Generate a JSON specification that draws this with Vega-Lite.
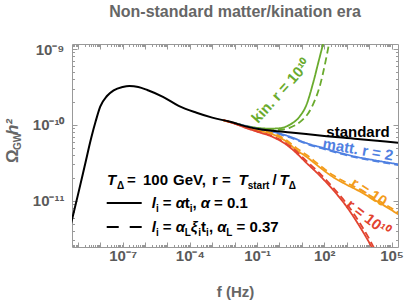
{
  "$schema": "https://vega.github.io/schema/vega-lite/v6.json",
  "width": 326,
  "height": 203,
  "autosize": {"type": "none"},
  "padding": {"left": 72, "top": 44, "right": 9, "bottom": 56},
  "title": {"text": "Non-standard matter/kination era", "fontSize": 16, "fontWeight": "bold", "color": "#666666", "anchor": "middle", "frame": "group", "baseline": "alphabetic", "offset": 9},
  "config": {
    "font": "Liberation Sans",
    "view": {"stroke": "#999999", "strokeWidth": 1},
    "axis": {"domain": false, "grid": false, "tickColor": "#999999", "tickWidth": 1, "labelColor": "#5a5a5a", "labelFontSize": 15, "labelFontWeight": "bold", "labelOverlap": false, "labelFlush": false, "labelBound": false, "titleColor": "#666666", "titleFontSize": 15, "titleFontWeight": "bold"}
  },
  "datasets": {
    "curves": [
      {"curve": "standard", "type": "solid", "f": 5.01e-10, "omega": 5.01e-12},
      {"curve": "standard", "type": "solid", "f": 1e-9, "omega": 1.175e-11},
      {"curve": "standard", "type": "solid", "f": 2.0e-9, "omega": 2.82e-11},
      {"curve": "standard", "type": "solid", "f": 3.98e-9, "omega": 6.76e-11},
      {"curve": "standard", "type": "solid", "f": 6.31e-9, "omega": 1.122e-10},
      {"curve": "standard", "type": "solid", "f": 1e-8, "omega": 1.738e-10},
      {"curve": "standard", "type": "solid", "f": 2.0e-8, "omega": 2.40e-10},
      {"curve": "standard", "type": "solid", "f": 3.98e-8, "omega": 2.85e-10},
      {"curve": "standard", "type": "solid", "f": 1e-7, "omega": 3.16e-10},
      {"curve": "standard", "type": "solid", "f": 2.0e-7, "omega": 3.26e-10},
      {"curve": "standard", "type": "solid", "f": 5.01e-7, "omega": 3.16e-10},
      {"curve": "standard", "type": "solid", "f": 1.26e-6, "omega": 2.88e-10},
      {"curve": "standard", "type": "solid", "f": 6.31e-6, "omega": 2.34e-10},
      {"curve": "standard", "type": "solid", "f": 3.16e-5, "omega": 1.778e-10},
      {"curve": "standard", "type": "solid", "f": 2.0e-4, "omega": 1.445e-10},
      {"curve": "standard", "type": "solid", "f": 1e-3, "omega": 1.245e-10},
      {"curve": "standard", "type": "solid", "f": 6.31e-3, "omega": 1.096e-10},
      {"curve": "standard", "type": "solid", "f": 3.16e-2, "omega": 9.55e-11},
      {"curve": "standard", "type": "solid", "f": 0.158, "omega": 8.71e-11},
      {"curve": "standard", "type": "solid", "f": 0.501, "omega": 8.36e-11},
      {"curve": "standard", "type": "solid", "f": 3.16, "omega": 7.94e-11},
      {"curve": "standard", "type": "solid", "f": 79.4, "omega": 7.16e-11},
      {"curve": "standard", "type": "solid", "f": 3981, "omega": 6.46e-11},
      {"curve": "standard", "type": "solid", "f": 2.0e5, "omega": 5.82e-11},

      {"curve": "kin", "type": "solid", "f": 0.01, "omega": 1.052e-10},
      {"curve": "kin", "type": "solid", "f": 0.0794, "omega": 9.23e-11},
      {"curve": "kin", "type": "solid", "f": 0.355, "omega": 8.91e-11},
      {"curve": "kin", "type": "solid", "f": 1, "omega": 9.02e-11},
      {"curve": "kin", "type": "solid", "f": 2.82, "omega": 1.0e-10},
      {"curve": "kin", "type": "solid", "f": 7.94, "omega": 1.288e-10},
      {"curve": "kin", "type": "solid", "f": 15.8, "omega": 1.82e-10},
      {"curve": "kin", "type": "solid", "f": 31.6, "omega": 3.55e-10},
      {"curve": "kin", "type": "solid", "f": 56.2, "omega": 6.92e-10},
      {"curve": "kin", "type": "solid", "f": 89.1, "omega": 1.175e-9},
      {"curve": "kin", "type": "solid", "f": 141, "omega": 2.0e-9},

      {"curve": "kin", "type": "dashed", "f": 0.01, "omega": 1.052e-10},
      {"curve": "kin", "type": "dashed", "f": 0.0794, "omega": 9.12e-11},
      {"curve": "kin", "type": "dashed", "f": 0.355, "omega": 8.51e-11},
      {"curve": "kin", "type": "dashed", "f": 1, "omega": 8.59e-11},
      {"curve": "kin", "type": "dashed", "f": 2.82, "omega": 9.12e-11},
      {"curve": "kin", "type": "dashed", "f": 10, "omega": 1.148e-10},
      {"curve": "kin", "type": "dashed", "f": 20, "omega": 1.445e-10},
      {"curve": "kin", "type": "dashed", "f": 31.6, "omega": 1.862e-10},
      {"curve": "kin", "type": "dashed", "f": 63.1, "omega": 3.24e-10},
      {"curve": "kin", "type": "dashed", "f": 126, "omega": 7.94e-10},
      {"curve": "kin", "type": "dashed", "f": 158, "omega": 1.122e-9},
      {"curve": "kin", "type": "dashed", "f": 200, "omega": 1.585e-9},

      {"curve": "matt", "type": "solid", "f": 0.01, "omega": 1.052e-10},
      {"curve": "matt", "type": "solid", "f": 0.1, "omega": 8.91e-11},
      {"curve": "matt", "type": "solid", "f": 0.501, "omega": 8.13e-11},
      {"curve": "matt", "type": "solid", "f": 3.16, "omega": 6.92e-11},
      {"curve": "matt", "type": "solid", "f": 15.8, "omega": 5.75e-11},
      {"curve": "matt", "type": "solid", "f": 100, "omega": 4.90e-11},
      {"curve": "matt", "type": "solid", "f": 501, "omega": 4.27e-11},
      {"curve": "matt", "type": "solid", "f": 2512, "omega": 3.80e-11},
      {"curve": "matt", "type": "solid", "f": 15850, "omega": 3.43e-11},
      {"curve": "matt", "type": "solid", "f": 2.0e5, "omega": 3.02e-11},

      {"curve": "matt", "type": "dashed", "f": 0.01, "omega": 1.052e-10},
      {"curve": "matt", "type": "dashed", "f": 0.1, "omega": 8.81e-11},
      {"curve": "matt", "type": "dashed", "f": 0.501, "omega": 7.94e-11},
      {"curve": "matt", "type": "dashed", "f": 3.16, "omega": 6.76e-11},
      {"curve": "matt", "type": "dashed", "f": 15.8, "omega": 5.62e-11},
      {"curve": "matt", "type": "dashed", "f": 100, "omega": 4.79e-11},
      {"curve": "matt", "type": "dashed", "f": 501, "omega": 4.17e-11},
      {"curve": "matt", "type": "dashed", "f": 2512, "omega": 3.72e-11},
      {"curve": "matt", "type": "dashed", "f": 15850, "omega": 3.35e-11},
      {"curve": "matt", "type": "dashed", "f": 2.0e5, "omega": 2.95e-11},

      {"curve": "r10", "type": "solid", "f": 0.00316, "omega": 1.148e-10},
      {"curve": "r10", "type": "solid", "f": 0.01, "omega": 1.047e-10},
      {"curve": "r10", "type": "solid", "f": 0.0316, "omega": 9.33e-11},
      {"curve": "r10", "type": "solid", "f": 0.1, "omega": 8.41e-11},
      {"curve": "r10", "type": "solid", "f": 0.501, "omega": 7.50e-11},
      {"curve": "r10", "type": "solid", "f": 2.0, "omega": 6.03e-11},
      {"curve": "r10", "type": "solid", "f": 5.62, "omega": 4.68e-11},
      {"curve": "r10", "type": "solid", "f": 15.8, "omega": 3.80e-11},
      {"curve": "r10", "type": "solid", "f": 63.1, "omega": 2.75e-11},
      {"curve": "r10", "type": "solid", "f": 251, "omega": 2.04e-11},
      {"curve": "r10", "type": "solid", "f": 1000, "omega": 1.622e-11},
      {"curve": "r10", "type": "solid", "f": 3162, "omega": 1.365e-11},
      {"curve": "r10", "type": "solid", "f": 10000, "omega": 1.122e-11},
      {"curve": "r10", "type": "solid", "f": 31600, "omega": 9.23e-12},
      {"curve": "r10", "type": "solid", "f": 2.0e5, "omega": 6.61e-12},

      {"curve": "r10", "type": "dashed", "f": 0.00316, "omega": 1.148e-10},
      {"curve": "r10", "type": "dashed", "f": 0.01, "omega": 1.047e-10},
      {"curve": "r10", "type": "dashed", "f": 0.0316, "omega": 9.4e-11},
      {"curve": "r10", "type": "dashed", "f": 0.1, "omega": 8.51e-11},
      {"curve": "r10", "type": "dashed", "f": 0.501, "omega": 7.76e-11},
      {"curve": "r10", "type": "dashed", "f": 2.0, "omega": 6.31e-11},
      {"curve": "r10", "type": "dashed", "f": 5.62, "omega": 4.95e-11},
      {"curve": "r10", "type": "dashed", "f": 15.8, "omega": 4.03e-11},
      {"curve": "r10", "type": "dashed", "f": 63.1, "omega": 2.92e-11},
      {"curve": "r10", "type": "dashed", "f": 251, "omega": 2.16e-11},
      {"curve": "r10", "type": "dashed", "f": 1000, "omega": 1.718e-11},
      {"curve": "r10", "type": "dashed", "f": 3162, "omega": 1.445e-11},
      {"curve": "r10", "type": "dashed", "f": 10000, "omega": 1.189e-11},
      {"curve": "r10", "type": "dashed", "f": 31600, "omega": 9.77e-12},
      {"curve": "r10", "type": "dashed", "f": 2.0e5, "omega": 7.00e-12},

      {"curve": "r1e10", "type": "solid", "f": 0.00316, "omega": 1.151e-10},
      {"curve": "r1e10", "type": "solid", "f": 0.01, "omega": 1.035e-10},
      {"curve": "r1e10", "type": "solid", "f": 0.0316, "omega": 9.12e-11},
      {"curve": "r1e10", "type": "solid", "f": 0.1, "omega": 8.13e-11},
      {"curve": "r1e10", "type": "solid", "f": 0.501, "omega": 6.92e-11},
      {"curve": "r1e10", "type": "solid", "f": 2.0, "omega": 5.50e-11},
      {"curve": "r1e10", "type": "solid", "f": 3.98, "omega": 4.68e-11},
      {"curve": "r1e10", "type": "solid", "f": 15.8, "omega": 3.16e-11},
      {"curve": "r1e10", "type": "solid", "f": 63.1, "omega": 2.14e-11},
      {"curve": "r1e10", "type": "solid", "f": 251, "omega": 1.38e-11},
      {"curve": "r1e10", "type": "solid", "f": 1000, "omega": 8.32e-12},
      {"curve": "r1e10", "type": "solid", "f": 3981, "omega": 4.47e-12},
      {"curve": "r1e10", "type": "solid", "f": 10000, "omega": 2.82e-12},
      {"curve": "r1e10", "type": "solid", "f": 20000, "omega": 1.905e-12},

      {"curve": "r1e10", "type": "dashed", "f": 0.00316, "omega": 1.151e-10},
      {"curve": "r1e10", "type": "dashed", "f": 0.01, "omega": 1.04e-10},
      {"curve": "r1e10", "type": "dashed", "f": 0.0316, "omega": 9.2e-11},
      {"curve": "r1e10", "type": "dashed", "f": 0.1, "omega": 8.22e-11},
      {"curve": "r1e10", "type": "dashed", "f": 0.501, "omega": 7.08e-11},
      {"curve": "r1e10", "type": "dashed", "f": 2.0, "omega": 5.69e-11},
      {"curve": "r1e10", "type": "dashed", "f": 3.98, "omega": 4.90e-11},
      {"curve": "r1e10", "type": "dashed", "f": 15.8, "omega": 3.35e-11},
      {"curve": "r1e10", "type": "dashed", "f": 63.1, "omega": 2.29e-11},
      {"curve": "r1e10", "type": "dashed", "f": 251, "omega": 1.479e-11},
      {"curve": "r1e10", "type": "dashed", "f": 1000, "omega": 9.12e-12},
      {"curve": "r1e10", "type": "dashed", "f": 3981, "omega": 5.01e-12},
      {"curve": "r1e10", "type": "dashed", "f": 10000, "omega": 3.16e-12},
      {"curve": "r1e10", "type": "dashed", "f": 22400, "omega": 2.0e-12}
    ],
    "legendlines": [
      {"kind": "solid", "f": 1.95e-8, "omega": 9.33e-12},
      {"kind": "solid", "f": 7.10e-7, "omega": 9.33e-12},
      {"kind": "dashed", "f": 1.95e-8, "omega": 4.51e-12},
      {"kind": "dashed", "f": 7.10e-7, "omega": 4.51e-12}
    ],
    "legend_up": [
      {"f": 1.567e-7, "omega": 1.61e-11, "text": "="},
      {"f": 8.11e-7, "omega": 1.61e-11, "text": "100"},
      {"f": 1.77e-5, "omega": 1.61e-11, "text": "GeV,"},
      {"f": 9.75e-4, "omega": 1.61e-11, "text": "r ="},
      {"f": 0.483, "omega": 1.61e-11, "text": "/"},
      {"f": 6.21e-6, "omega": 8.02e-12, "text": "="},
      {"f": 5.89e-5, "omega": 8.02e-12, "text": "t"},
      {"f": 1.31e-4, "omega": 8.02e-12, "text": ","},
      {"f": 1.20e-3, "omega": 8.02e-12, "text": "= 0.1"},
      {"f": 6.21e-6, "omega": 3.87e-12, "text": "="},
      {"f": 3.18e-4, "omega": 3.87e-12, "text": "t"},
      {"f": 7.08e-4, "omega": 3.87e-12, "text": ","},
      {"f": 1.21e-2, "omega": 3.87e-12, "text": "= 0.37"}
    ],
    "legend_it": [
      {"f": 2.00e-8, "omega": 1.61e-11, "text": "T"},
      {"f": 1.48e-2, "omega": 1.61e-11, "text": "T"},
      {"f": 1.014, "omega": 1.61e-11, "text": "T"},
      {"f": 1.98e-6, "omega": 8.02e-12, "text": "l"},
      {"f": 2.33e-5, "omega": 8.02e-12, "text": "α"},
      {"f": 3.08e-4, "omega": 8.02e-12, "text": "α"},
      {"f": 1.98e-6, "omega": 3.87e-12, "text": "l"},
      {"f": 2.33e-5, "omega": 3.87e-12, "text": "α"},
      {"f": 1.10e-4, "omega": 3.87e-12, "text": "ξ"},
      {"f": 1.66e-3, "omega": 3.87e-12, "text": "α"}
    ],
    "legend_sub": [
      {"f": 5.60e-8, "omega": 1.61e-11, "text": "Δ"},
      {"f": 3.82e-2, "omega": 1.61e-11, "text": "start"},
      {"f": 2.61, "omega": 1.61e-11, "text": "Δ"},
      {"f": 3.05e-6, "omega": 8.02e-12, "text": "i"},
      {"f": 9.84e-5, "omega": 8.02e-12, "text": "i"},
      {"f": 3.05e-6, "omega": 3.87e-12, "text": "i"},
      {"f": 5.89e-5, "omega": 3.87e-12, "text": "L"},
      {"f": 2.38e-4, "omega": 3.87e-12, "text": "i"},
      {"f": 5.31e-4, "omega": 3.87e-12, "text": "i"},
      {"f": 4.19e-3, "omega": 3.87e-12, "text": "L"}
    ],
    "ytitle": [
      {"part": "main", "f": 2.14e-12, "omega": 3.14e-11, "text": "Ω"},
      {"part": "sub", "f": 2.14e-12, "omega": 4.67e-11, "text": "GW"},
      {"part": "it", "f": 2.14e-12, "omega": 7.34e-11, "text": "h²"}
    ],
    "labels": [
      {"name": "standard", "f": 3200, "omega": 8.05e-11, "text": "standard"},
      {"name": "matt", "f": 3200, "omega": 4.73e-11, "text": "matt. r = 2"},
      {"name": "r10", "f": 9910, "omega": 1.30e-11, "text": "r = 10"},
      {"name": "r1e10", "f": 8930, "omega": 5.92e-12, "text": "r = 10¹⁰"},
      {"name": "kin", "f": 1.17, "omega": 2.79e-10, "text": "kin. r = 10¹⁰"}
    ]
  },
  "layer": [
    {
      "data": {"name": "curves"},
      "transform": [{"filter": "datum.curve != 'standard'"}],
      "mark": {"type": "line", "interpolate": "monotone", "strokeWidth": 1.8, "clip": true},
      "encoding": {
        "x": {"field": "f", "type": "quantitative", "scale": {"type": "log", "domain": [5.5e-10, 1.95e5], "nice": false},
          "axis": {"orient": "bottom", "title": "f (Hz)", "titleY": 44, "titleBaseline": "middle",
            "values": [6e-10,7e-10,8e-10,9e-10,1e-9,2e-9,3e-9,4e-9,5e-9,6e-9,7e-9,8e-9,9e-9,1e-8,2e-8,3e-8,4e-8,5e-8,6e-8,7e-8,8e-8,9e-8,1e-7,2e-7,3e-7,4e-7,5e-7,6e-7,7e-7,8e-7,9e-7,1e-6,2e-6,3e-6,4e-6,5e-6,6e-6,7e-6,8e-6,9e-6,1e-5,2e-5,3e-5,4e-5,5e-5,6e-5,7e-5,8e-5,9e-5,1e-4,2e-4,3e-4,4e-4,5e-4,6e-4,7e-4,8e-4,9e-4,1e-3,2e-3,3e-3,4e-3,5e-3,6e-3,7e-3,8e-3,9e-3,0.01,0.02,0.03,0.04,0.05,0.06,0.07,0.08,0.09,0.1,0.2,0.3,0.4,0.5,0.6,0.7,0.8,0.9,1,2,3,4,5,6,7,8,9,10,20,30,40,50,60,70,80,90,100,200,300,400,500,600,700,800,900,1000,2000,3000,4000,5000,6000,7000,8000,9000,10000,20000,30000,40000,50000,60000,70000,80000,90000,100000],
            "labelExpr": "datum.value == 1e-7 ? '10⁻⁷' : datum.value == 1e-4 ? '10⁻⁴' : datum.value == 0.1 ? '10⁻¹' : datum.value == 100 ? '10²' : datum.value == 100000 ? '10⁵' : ''",
            "tickSize": {"condition": {"test": "abs(log(datum.value)/LN10 - round(log(datum.value)/LN10)) < 0.001", "value": -5}, "value": -2.5},
            "labelPadding": 6}},
        "y": {"field": "omega", "type": "quantitative", "scale": {"type": "log", "domain": [2.45e-12, 1.164e-9], "nice": false},
          "axis": {"orient": "left", "title": null,
            "values": [3e-12,4e-12,5e-12,6e-12,7e-12,8e-12,9e-12,1e-11,2e-11,3e-11,4e-11,5e-11,6e-11,7e-11,8e-11,9e-11,1e-10,2e-10,3e-10,4e-10,5e-10,6e-10,7e-10,8e-10,9e-10,1e-9],
            "labelExpr": "datum.value == 1e-9 ? '10⁻⁹' : datum.value == 1e-10 ? '10⁻¹⁰' : datum.value == 1e-11 ? '10⁻¹¹' : ''",
            "tickSize": {"condition": {"test": "abs(log(datum.value)/LN10 - round(log(datum.value)/LN10)) < 0.001", "value": -5}, "value": -2.5},
            "labelPadding": 13}},
        "color": {"field": "curve", "type": "nominal", "scale": {"domain": ["kin", "matt", "r10", "r1e10"], "range": ["#6aab2e", "#4f80e1", "#f39c1b", "#e2432f"]}, "legend": null},
        "strokeDash": {"field": "type", "type": "nominal", "scale": {"domain": ["solid", "dashed"], "range": [[1, 0], [7, 4]]}, "legend": null}
      }
    },
    {
      "data": {"name": "curves"},
      "transform": [{"filter": "datum.curve == 'standard'"}],
      "mark": {"type": "line", "interpolate": "monotone", "strokeWidth": 2, "color": "black", "clip": true},
      "encoding": {
        "x": {"field": "f", "type": "quantitative", "scale": {"type": "log", "domain": [5.5e-10, 1.95e5], "nice": false}, "axis": null},
        "y": {"field": "omega", "type": "quantitative", "scale": {"type": "log", "domain": [2.45e-12, 1.164e-9], "nice": false}, "axis": null}
      }
    },
    {
      "data": {"name": "legendlines"},
      "transform": [{"filter": "datum.kind == 'solid'"}],
      "mark": {"type": "line", "strokeWidth": 2, "color": "black"},
      "encoding": {
        "x": {"field": "f", "type": "quantitative", "scale": {"type": "log", "domain": [5.5e-10, 1.95e5], "nice": false},
          "axis": {"orient": "top", "title": null, "labels": false,
            "values": [6e-10,7e-10,8e-10,9e-10,1e-9,2e-9,3e-9,4e-9,5e-9,6e-9,7e-9,8e-9,9e-9,1e-8,2e-8,3e-8,4e-8,5e-8,6e-8,7e-8,8e-8,9e-8,1e-7,2e-7,3e-7,4e-7,5e-7,6e-7,7e-7,8e-7,9e-7,1e-6,2e-6,3e-6,4e-6,5e-6,6e-6,7e-6,8e-6,9e-6,1e-5,2e-5,3e-5,4e-5,5e-5,6e-5,7e-5,8e-5,9e-5,1e-4,2e-4,3e-4,4e-4,5e-4,6e-4,7e-4,8e-4,9e-4,1e-3,2e-3,3e-3,4e-3,5e-3,6e-3,7e-3,8e-3,9e-3,0.01,0.02,0.03,0.04,0.05,0.06,0.07,0.08,0.09,0.1,0.2,0.3,0.4,0.5,0.6,0.7,0.8,0.9,1,2,3,4,5,6,7,8,9,10,20,30,40,50,60,70,80,90,100,200,300,400,500,600,700,800,900,1000,2000,3000,4000,5000,6000,7000,8000,9000,10000,20000,30000,40000,50000,60000,70000,80000,90000,100000],
            "tickSize": {"condition": {"test": "abs(log(datum.value)/LN10 - round(log(datum.value)/LN10)) < 0.001", "value": -5}, "value": -2.5}}},
        "y": {"field": "omega", "type": "quantitative", "scale": {"type": "log", "domain": [2.45e-12, 1.164e-9], "nice": false},
          "axis": {"orient": "right", "title": null, "labels": false,
            "values": [3e-12,4e-12,5e-12,6e-12,7e-12,8e-12,9e-12,1e-11,2e-11,3e-11,4e-11,5e-11,6e-11,7e-11,8e-11,9e-11,1e-10,2e-10,3e-10,4e-10,5e-10,6e-10,7e-10,8e-10,9e-10,1e-9],
            "tickSize": {"condition": {"test": "abs(log(datum.value)/LN10 - round(log(datum.value)/LN10)) < 0.001", "value": -5}, "value": -2.5}}}
      }
    },
    {
      "data": {"name": "legendlines"},
      "transform": [{"filter": "datum.kind == 'dashed'"}],
      "mark": {"type": "line", "strokeWidth": 2, "color": "black", "strokeDash": [12, 11]},
      "encoding": {
        "x": {"field": "f", "type": "quantitative", "scale": {"type": "log", "domain": [5.5e-10, 1.95e5], "nice": false}, "axis": null},
        "y": {"field": "omega", "type": "quantitative", "scale": {"type": "log", "domain": [2.45e-12, 1.164e-9], "nice": false}, "axis": null}
      }
    },
    {
      "data": {"name": "legend_up"},
      "mark": {"type": "text", "align": "left", "baseline": "alphabetic", "fontSize": 15, "fontWeight": "bold", "color": "black"},
      "encoding": {
        "x": {"field": "f", "type": "quantitative", "scale": {"type": "log", "domain": [5.5e-10, 1.95e5], "nice": false}, "axis": null},
        "y": {"field": "omega", "type": "quantitative", "scale": {"type": "log", "domain": [2.45e-12, 1.164e-9], "nice": false}, "axis": null},
        "text": {"field": "text"}
      }
    },
    {
      "data": {"name": "legend_it"},
      "mark": {"type": "text", "align": "left", "baseline": "alphabetic", "fontSize": 15, "fontWeight": "bold", "fontStyle": "italic", "color": "black"},
      "encoding": {
        "x": {"field": "f", "type": "quantitative", "scale": {"type": "log", "domain": [5.5e-10, 1.95e5], "nice": false}, "axis": null},
        "y": {"field": "omega", "type": "quantitative", "scale": {"type": "log", "domain": [2.45e-12, 1.164e-9], "nice": false}, "axis": null},
        "text": {"field": "text"}
      }
    },
    {
      "data": {"name": "legend_sub"},
      "mark": {"type": "text", "align": "left", "baseline": "alphabetic", "fontSize": 10, "fontWeight": "bold", "color": "black", "dy": 4},
      "encoding": {
        "x": {"field": "f", "type": "quantitative", "scale": {"type": "log", "domain": [5.5e-10, 1.95e5], "nice": false}, "axis": null},
        "y": {"field": "omega", "type": "quantitative", "scale": {"type": "log", "domain": [2.45e-12, 1.164e-9], "nice": false}, "axis": null},
        "text": {"field": "text"}
      }
    },
    {
      "data": {"name": "ytitle"},
      "transform": [{"filter": "datum.part == 'main'"}],
      "mark": {"type": "text", "align": "left", "baseline": "alphabetic", "fontSize": 17, "fontWeight": "bold", "color": "#666666", "angle": 270},
      "encoding": {
        "x": {"field": "f", "type": "quantitative", "scale": {"type": "log", "domain": [5.5e-10, 1.95e5], "nice": false}, "axis": null},
        "y": {"field": "omega", "type": "quantitative", "scale": {"type": "log", "domain": [2.45e-12, 1.164e-9], "nice": false}, "axis": null},
        "text": {"field": "text"}
      }
    },
    {
      "data": {"name": "ytitle"},
      "transform": [{"filter": "datum.part == 'sub'"}],
      "mark": {"type": "text", "align": "left", "baseline": "alphabetic", "fontSize": 10, "fontWeight": "bold", "color": "#666666", "angle": 270, "dy": 3},
      "encoding": {
        "x": {"field": "f", "type": "quantitative", "scale": {"type": "log", "domain": [5.5e-10, 1.95e5], "nice": false}, "axis": null},
        "y": {"field": "omega", "type": "quantitative", "scale": {"type": "log", "domain": [2.45e-12, 1.164e-9], "nice": false}, "axis": null},
        "text": {"field": "text"}
      }
    },
    {
      "data": {"name": "ytitle"},
      "transform": [{"filter": "datum.part == 'it'"}],
      "mark": {"type": "text", "align": "left", "baseline": "alphabetic", "fontSize": 17, "fontWeight": "bold", "fontStyle": "italic", "color": "#666666", "angle": 270},
      "encoding": {
        "x": {"field": "f", "type": "quantitative", "scale": {"type": "log", "domain": [5.5e-10, 1.95e5], "nice": false}, "axis": null},
        "y": {"field": "omega", "type": "quantitative", "scale": {"type": "log", "domain": [2.45e-12, 1.164e-9], "nice": false}, "axis": null},
        "text": {"field": "text"}
      }
    },
    {
      "data": {"name": "labels"},
      "transform": [{"filter": "datum.name == 'standard'"}],
      "mark": {"type": "text", "align": "center", "baseline": "middle", "fontSize": 15, "fontWeight": "bold", "color": "black"},
      "encoding": {
        "x": {"field": "f", "type": "quantitative", "scale": {"type": "log", "domain": [5.5e-10, 1.95e5], "nice": false}, "axis": null},
        "y": {"field": "omega", "type": "quantitative", "scale": {"type": "log", "domain": [2.45e-12, 1.164e-9], "nice": false}, "axis": null},
        "text": {"field": "text"}
      }
    },
    {
      "data": {"name": "labels"},
      "transform": [{"filter": "datum.name == 'matt'"}],
      "mark": {"type": "text", "align": "center", "baseline": "middle", "fontSize": 15, "fontWeight": "bold", "color": "#4f80e1", "angle": 10},
      "encoding": {
        "x": {"field": "f", "type": "quantitative", "scale": {"type": "log", "domain": [5.5e-10, 1.95e5], "nice": false}, "axis": null},
        "y": {"field": "omega", "type": "quantitative", "scale": {"type": "log", "domain": [2.45e-12, 1.164e-9], "nice": false}, "axis": null},
        "text": {"field": "text"}
      }
    },
    {
      "data": {"name": "labels"},
      "transform": [{"filter": "datum.name == 'r10'"}],
      "mark": {"type": "text", "align": "center", "baseline": "middle", "fontSize": 15, "fontWeight": "bold", "color": "#f39c1b", "angle": 33},
      "encoding": {
        "x": {"field": "f", "type": "quantitative", "scale": {"type": "log", "domain": [5.5e-10, 1.95e5], "nice": false}, "axis": null},
        "y": {"field": "omega", "type": "quantitative", "scale": {"type": "log", "domain": [2.45e-12, 1.164e-9], "nice": false}, "axis": null},
        "text": {"field": "text"}
      }
    },
    {
      "data": {"name": "labels"},
      "transform": [{"filter": "datum.name == 'r1e10'"}],
      "mark": {"type": "text", "align": "center", "baseline": "middle", "fontSize": 15, "fontWeight": "bold", "color": "#e2432f", "angle": 38},
      "encoding": {
        "x": {"field": "f", "type": "quantitative", "scale": {"type": "log", "domain": [5.5e-10, 1.95e5], "nice": false}, "axis": null},
        "y": {"field": "omega", "type": "quantitative", "scale": {"type": "log", "domain": [2.45e-12, 1.164e-9], "nice": false}, "axis": null},
        "text": {"field": "text"}
      }
    },
    {
      "data": {"name": "labels"},
      "transform": [{"filter": "datum.name == 'kin'"}],
      "mark": {"type": "text", "align": "center", "baseline": "middle", "fontSize": 15, "fontWeight": "bold", "color": "#6aab2e", "angle": -48},
      "encoding": {
        "x": {"field": "f", "type": "quantitative", "scale": {"type": "log", "domain": [5.5e-10, 1.95e5], "nice": false}, "axis": null},
        "y": {"field": "omega", "type": "quantitative", "scale": {"type": "log", "domain": [2.45e-12, 1.164e-9], "nice": false}, "axis": null},
        "text": {"field": "text"}
      }
    }
  ]
}
